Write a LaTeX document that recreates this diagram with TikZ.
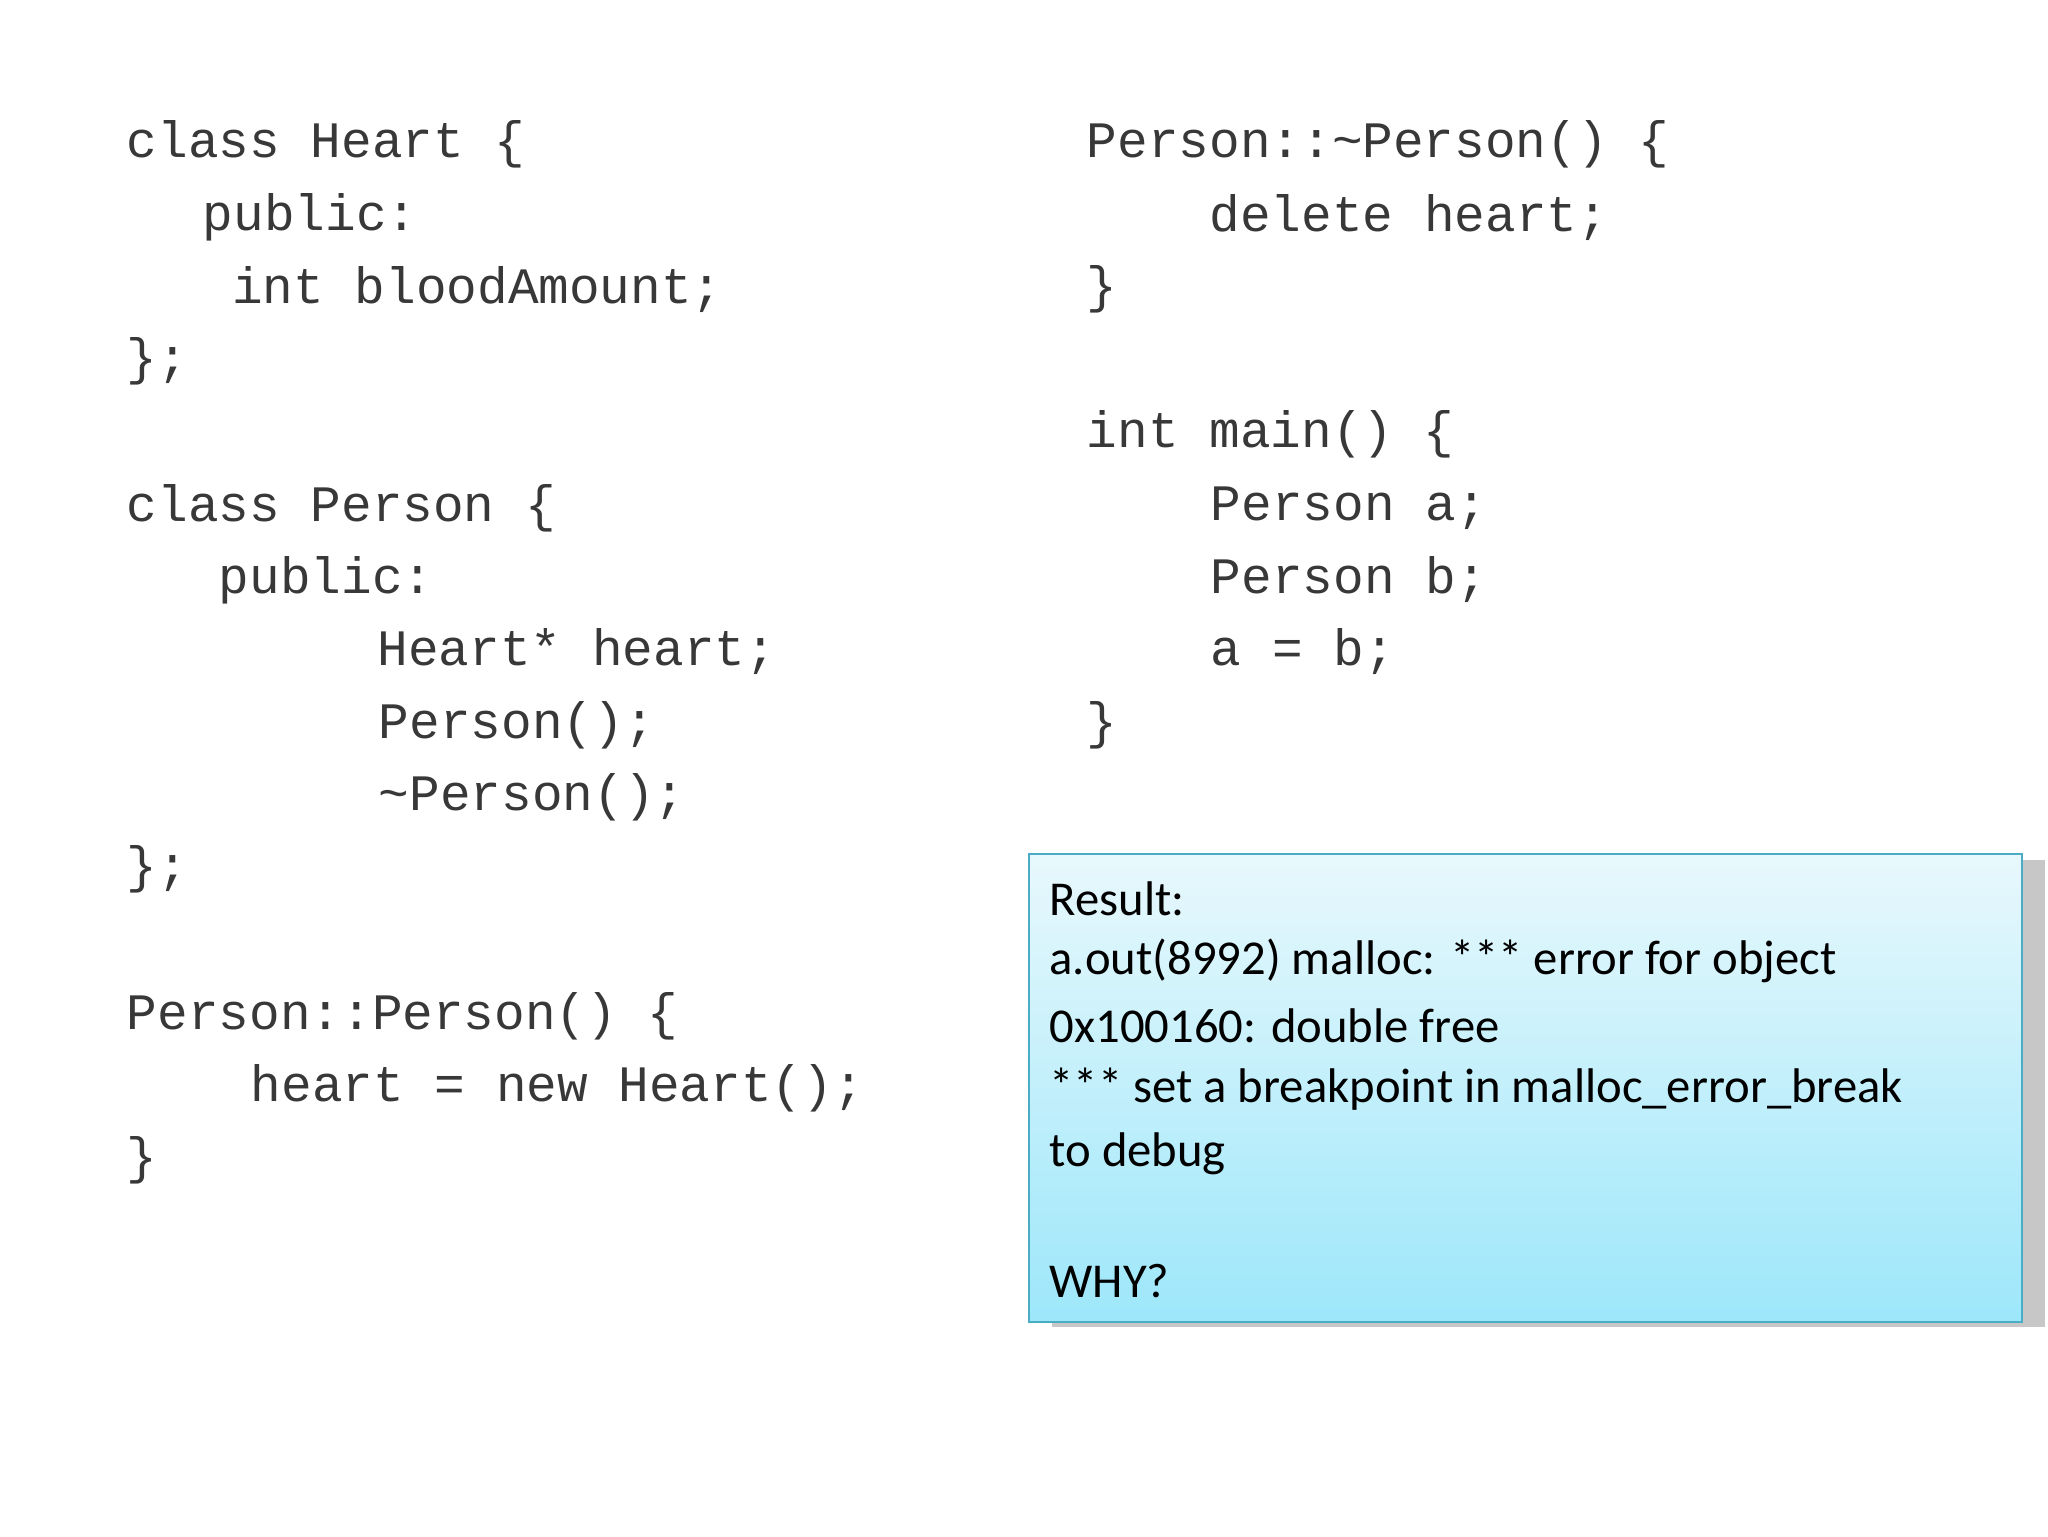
\documentclass[tikz,border=0pt]{standalone}
\usepackage{fontspec}
\setmainfont{Carlito}
\setmonofont{Liberation Mono}
\begin{document}
\begin{tikzpicture}[x=1pt,y=-1pt,
  code/.style={anchor=west,inner sep=0pt,font=\ttfamily\fontsize{38.3}{44}\selectfont,text=black!78},
  res/.style={anchor=west,inner sep=0pt,font=\fontsize{36.5}{42}\selectfont}]
\useasboundingbox (0,0) rectangle (1536,1152);
\definecolor{bord}{HTML}{4BACC6}
\definecolor{gtop}{HTML}{E8F8FC}
\definecolor{gbot}{HTML}{9DE7FA}
\node[code] (l1) at (95,108) {class Heart \{};
\node[code] (l2) at (152,163) {public:};
\node[code] (l3) at (174,217) {int bloodAmount;};
\node[code] (l4) at (95,271) {\};};
\node[code] (l5) at (95,381) {class Person \{};
\node[code] (l6) at (164,435) {public:};
\node[code] (l7) at (283,489) {Heart* heart;};
\node[code] (l8) at (284,544) {Person();};
\node[code] (l9) at (284,598) {\textasciitilde Person();};
\node[code] (l10) at (95,652) {\};};
\node[code] (l11) at (95,762) {Person::Person() \{};
\node[code] (l12) at (188,816) {heart = new Heart();};
\node[code] (l13) at (95,870) {\}};
\node[code] (r1) at (815,108) {Person::\textasciitilde Person() \{};
\node[code] (r2) at (907,163) {delete heart;};
\node[code] (r3) at (815,217) {\}};
\node[code] (r4) at (815,326) {int main() \{};
\node[code] (r5) at (908,381) {Person a;};
\node[code] (r6) at (908,435) {Person b;};
\node[code] (r7) at (908,489) {a = b;};
\node[code] (r8) at (815,544) {\}};
\fill[black!22] (789,645) rectangle (1534,995);
\shade[top color=gtop,bottom color=gbot] (771,640) rectangle (1516,991);
\node[draw=bord,line width=1.2pt,minimum width=745pt,minimum height=351pt,anchor=north west,inner sep=0pt] (box) at (771,640) {};
\node[res] (t1) at (787,674) {Result:};
\node[res] (t2) at (787,721) {a.out(8992) malloc: *** error for object};
\node[res] (t3) at (787,769) {0x100160: double free};
\node[res] (t4) at (787,817) {*** set a breakpoint in malloc\_error\_break};
\node[res] (t5) at (787,865) {to debug};
\node[res] (t6) at (787,961) {WHY?};
\end{tikzpicture}
\end{document}
